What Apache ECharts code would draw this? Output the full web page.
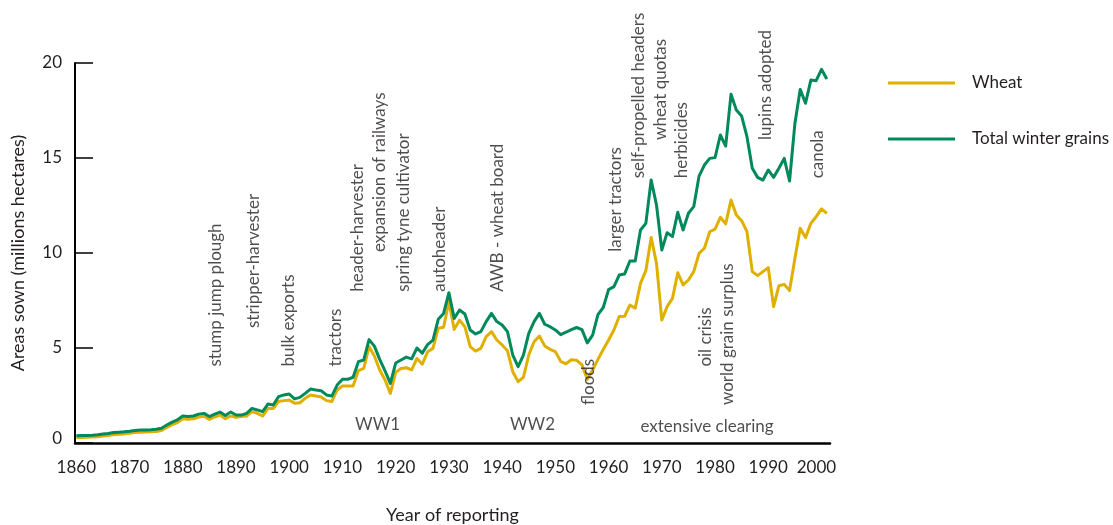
<!DOCTYPE html>
<html>
<head>
<meta charset="utf-8">
<title>Areas sown to wheat and total winter grains</title>
<script src="https://cdn.jsdelivr.net/npm/echarts@6/dist/echarts.min.js"></script>
<style>
  html, body { margin: 0; padding: 0; background: #ffffff; }
  #chart { width: 1113px; height: 525px; }
</style>
</head>
<body>
<div id="chart"></div>
<script>
// Areas sown, millions of hectares, one value per reporting year from 1860.
const firstYear = 1860;

const wheat = [
  0.28, 0.29, 0.30, 0.31, 0.33, 0.37, 0.40, 0.44, 0.46, 0.48,
  0.51, 0.55, 0.57, 0.58, 0.59, 0.60, 0.66, 0.82, 0.97, 1.08,
  1.27, 1.25, 1.27, 1.37, 1.41, 1.24, 1.37, 1.47, 1.28, 1.42,
  1.35, 1.39, 1.42, 1.65, 1.56, 1.42, 1.82, 1.82, 2.18, 2.23,
  2.26, 2.09, 2.12, 2.35, 2.53, 2.47, 2.42, 2.23, 2.18, 2.79,
  3.00, 3.00, 3.00, 3.81, 3.93, 5.07, 4.58, 3.84, 3.32, 2.61,
  3.72, 3.92, 3.96, 3.85, 4.45, 4.15, 4.80, 4.98, 6.04, 6.09,
  7.44, 5.98, 6.47, 6.12, 5.07, 4.84, 4.98, 5.60, 5.86, 5.42,
  5.16, 4.86, 3.75, 3.23, 3.46, 4.63, 5.33, 5.63, 5.11, 4.93,
  4.81, 4.30, 4.17, 4.38, 4.35, 4.12, 3.35, 3.84, 4.40, 4.92,
  5.42, 5.95, 6.66, 6.67, 7.26, 7.09, 8.40, 9.07, 10.82, 9.46,
  6.47, 7.18, 7.61, 8.96, 8.32, 8.58, 9.02, 9.98, 10.25, 11.12,
  11.26, 11.88, 11.53, 12.79, 12.00, 11.70, 11.12, 9.02, 8.81, 9.02,
  9.23, 7.18, 8.28, 8.35, 8.02, 9.70, 11.30, 10.81, 11.56, 11.91,
  12.32, 12.09
];

const totalWinterGrains = [
  0.38, 0.39, 0.40, 0.41, 0.43, 0.47, 0.50, 0.55, 0.57, 0.59,
  0.62, 0.66, 0.69, 0.69, 0.70, 0.72, 0.78, 0.95, 1.10, 1.22,
  1.42, 1.40, 1.42, 1.52, 1.56, 1.39, 1.52, 1.63, 1.45, 1.63,
  1.47, 1.47, 1.56, 1.82, 1.74, 1.65, 2.05, 2.00, 2.44, 2.53,
  2.58, 2.32, 2.40, 2.61, 2.84, 2.79, 2.75, 2.53, 2.47, 3.05,
  3.35, 3.35, 3.46, 4.28, 4.37, 5.44, 5.10, 4.40, 3.80, 3.14,
  4.21, 4.37, 4.52, 4.43, 5.00, 4.73, 5.18, 5.42, 6.51, 6.82,
  7.91, 6.56, 7.00, 6.79, 5.95, 5.74, 5.86, 6.39, 6.82, 6.39,
  6.21, 5.86, 4.63, 4.02, 4.63, 5.77, 6.39, 6.82, 6.25, 6.12,
  5.95, 5.70, 5.83, 5.97, 6.08, 5.97, 5.27, 5.68, 6.76, 7.13,
  8.07, 8.23, 8.84, 8.89, 9.58, 9.58, 11.21, 11.56, 13.84, 12.53,
  10.16, 11.07, 10.86, 12.14, 11.21, 12.09, 12.44, 14.05, 14.63, 14.98,
  15.02, 16.21, 15.63, 18.35, 17.53, 17.21, 16.12, 14.46, 13.98, 13.84,
  14.37, 13.98, 14.46, 14.98, 13.79, 16.80, 18.61, 17.88, 19.10, 19.07,
  19.67, 19.16
];

const yearTicks = [1860, 1870, 1880, 1890, 1900, 1910, 1920, 1930, 1940, 1950, 1960, 1970, 1980, 1990, 2000];
const areaTicks = [0, 5, 10, 15, 20];

// Events written vertically above the curves: label, year, height (Mha) where the text starts.
const eventLabels = [
  'stump jump plough', 'stripper-harvester', 'bulk exports', 'tractors',
  'header-harvester', 'expansion of railways', 'spring tyne cultivator', 'autoheader',
  'AWB - wheat board', 'floods', 'larger tractors', 'self-propelled headers',
  'wheat quotas', 'herbicides', 'oil crisis', 'world grain surplus',
  'lupins adopted', 'canola'
];
const eventYears = [
  1886.2, 1893.2, 1899.9, 1908.7,
  1912.9, 1917.0, 1921.4, 1928.2,
  1939.1, 1956.3, 1961.3, 1965.7,
  1969.8, 1973.7, 1978.2, 1982.3,
  1989.5, 1999.3
];
const eventHeights = [
  4.02, 6.05, 4.02, 4.02,
  7.96, 10.05, 7.96, 7.96,
  7.96, 2.0, 10.07, 13.93,
  15.95, 13.93, 4.02, 2.0,
  15.95, 13.93
];

// Periods written horizontally along the base of the chart.
const periodLabels = ['WW1', 'WW2', 'extensive clearing'];
const periodYears = [1916.6, 1945.7, 1978.5];
const periodHeights = [0.95, 0.95, 0.86];

const textColor = '#231f20';
const fontFamily = 'Lato, "Noto Sans", sans-serif';
const fontSize = 17;

function pairs(values) {
  return values.map((v, i) => [firstYear + i, v]);
}

const chart = echarts.init(document.getElementById('chart'), null, { renderer: 'canvas' });

chart.setOption({
  backgroundColor: '#ffffff',
  animation: false,
  textStyle: { fontFamily: fontFamily, color: textColor },
  grid: {
    left: 75, right: 283, top: 63, bottom: 82,
    containLabel: false,
    outerBoundsMode: 'none'
  },
  legend: {
    data: ['Wheat', 'Total winter grains'],
    orient: 'vertical',
    left: 883,
    top: 68,
    icon: 'rect',
    itemWidth: 67,
    itemHeight: 3,
    itemGap: 36,
    selectedMode: false,
    textStyle: {
      fontSize: fontSize,
      lineHeight: 20,
      color: textColor,
      fontFamily: fontFamily,
      padding: [0, 0, 0, 12]
    }
  },
  xAxis: {
    type: 'value',
    min: 1859.75,
    max: 2001.6,
    name: 'Year of reporting',
    nameLocation: 'middle',
    nameGap: 63,
    nameTextStyle: { fontSize: 18, color: textColor, fontFamily: fontFamily },
    axisLine: { show: true, onZero: false, lineStyle: { color: '#000', width: 2.5 } },
    axisTick: { show: false },
    splitLine: { show: false },
    axisLabel: {
      customValues: yearTicks,
      fontSize: fontSize,
      color: textColor,
      margin: 16,
      fontFamily: fontFamily,
      formatter: v => (v === 2000 ? '{last|' + v + '}' : String(v)),
      rich: {
        last: { fontSize: fontSize, color: textColor, fontFamily: fontFamily, padding: [0, 10, 0, 0] }
      }
    }
  },
  yAxis: {
    type: 'value',
    min: 0,
    max: 20,
    interval: 5,
    name: 'Areas sown (millions hectares)',
    nameLocation: 'middle',
    nameGap: 48,
    nameRotate: 90,
    nameTextStyle: { fontSize: 18, color: textColor, fontFamily: fontFamily },
    axisLine: { show: true, lineStyle: { color: '#000', width: 2 } },
    axisTick: {
      show: true,
      inside: true,
      length: 18,
      customValues: areaTicks,
      lineStyle: { color: '#000', width: 1.5 }
    },
    splitLine: { show: false },
    axisLabel: {
      customValues: areaTicks,
      fontSize: fontSize,
      color: textColor,
      margin: 13,
      fontFamily: fontFamily,
      formatter: v => (v === 0 ? '{base|0}' : String(v)),
      rich: {
        base: { fontSize: fontSize, color: textColor, fontFamily: fontFamily, padding: [0, 0, 8, 0] }
      }
    }
  },
  series: [
    {
      name: 'Wheat',
      type: 'line',
      data: pairs(wheat),
      color: '#dfb000',
      showSymbol: false,
      symbol: 'none',
      silent: true,
      lineStyle: { width: 3, color: '#dfb000', join: 'round' },
      z: 3
    },
    {
      name: 'Total winter grains',
      type: 'line',
      data: pairs(totalWinterGrains),
      color: '#00895a',
      showSymbol: false,
      symbol: 'none',
      silent: true,
      lineStyle: { width: 3, color: '#00895a', join: 'round' },
      z: 4
    },
    {
      name: 'events',
      type: 'scatter',
      silent: true,
      symbolSize: 0,
      z: 5,
      data: eventLabels.map((t, i) => ({ name: t, value: [eventYears[i], eventHeights[i]] })),
      label: {
        show: true,
        position: 'inside',
        rotate: 90,
        align: 'left',
        verticalAlign: 'middle',
        formatter: p => p.name,
        fontSize: fontSize,
        color: textColor,
        fontFamily: fontFamily
      }
    },
    {
      name: 'periods',
      type: 'scatter',
      silent: true,
      symbolSize: 0,
      z: 5,
      data: periodLabels.map((t, i) => ({ name: t, value: [periodYears[i], periodHeights[i]] })),
      label: {
        show: true,
        position: 'inside',
        align: 'center',
        verticalAlign: 'middle',
        formatter: p => p.name,
        fontSize: fontSize,
        color: textColor,
        fontFamily: fontFamily
      }
    }
  ]
});
</script>
</body>
</html>
